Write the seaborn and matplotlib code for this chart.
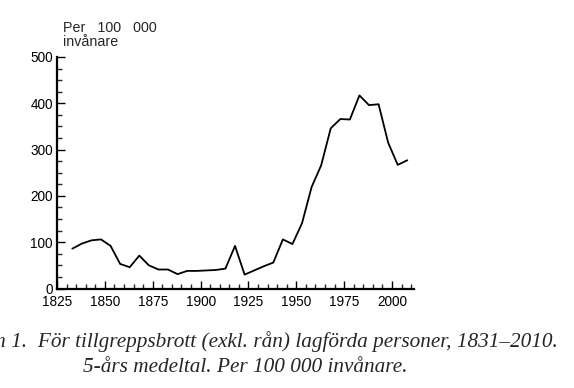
import matplotlib
matplotlib.use("Agg")
import matplotlib.pyplot as plt
import seaborn as sns
import pandas as pd
from matplotlib.ticker import MultipleLocator

years = [1833, 1838, 1843, 1848, 1853, 1858, 1863, 1868, 1873, 1878, 1883, 1888,
         1893, 1898, 1903, 1908, 1913, 1918, 1923, 1928, 1933, 1938, 1943, 1948,
         1953, 1958, 1963, 1968, 1973, 1978, 1983, 1988, 1993, 1998, 2003, 2008]
values = [86, 97, 104, 106, 92, 53, 46, 71, 50, 41, 41, 31,
          38, 38, 39, 40, 43, 92, 30, 39, 48, 56, 106, 96,
          141, 219, 266, 346, 366, 365, 417, 396, 398, 315, 267, 277]
x_ticks = [1825, 1850, 1875, 1900, 1925, 1950, 1975, 2000]
y_ticks = [0, 100, 200, 300, 400, 500]

sns.set_style("ticks")
plt.rcParams['font.family'] = ['Liberation Sans', 'DejaVu Sans']

df = pd.DataFrame({"year": years, "value": values})

fig = plt.figure(figsize=(5.74, 3.88), dpi=100)
ax = fig.add_axes([57/574, 1 - 288.5/388, (414 - 57)/574, (288.5 - 57)/388])
sns.lineplot(data=df, x="year", y="value", ax=ax, color="black", linewidth=1.3)

ax.set_xlim(1825, 2011.5)
ax.set_ylim(0, 500)
ax.set_xticks(x_ticks)
ax.set_yticks(y_ticks)
ax.xaxis.set_minor_locator(MultipleLocator(5))
ax.yaxis.set_minor_locator(MultipleLocator(25))
ax.tick_params(axis='both', which='major', direction='in', length=6, width=1,
               labelsize=9.8, colors='black')
ax.tick_params(axis='both', which='minor', direction='in', length=3.5, width=1)
ax.tick_params(axis='x', which='major', pad=5)
ax.tick_params(axis='y', which='major', pad=3)
ax.set_xlabel("")
ax.set_ylabel("")
for s in ['top', 'right']:
    ax.spines[s].set_visible(False)
for s in ['left', 'bottom']:
    ax.spines[s].set_linewidth(1.6)
    ax.spines[s].set_color('black')

fig.text(63/574, 1 - 21/388, "Per   100   000\ninvånare", ha='left', va='top',
         fontsize=10.3, linespacing=1.0)

serif = ['Liberation Serif', 'DejaVu Serif']
fig.text(558/574, 1 - 347/388, "Diagram 1.  För tillgreppsbrott (exkl. rån) lagförda personer, 1831–2010.",
         ha='right', va='baseline', family=serif, style='italic', fontsize=15.3)
fig.text(83/574, 1 - 372/388, "5-års medeltal. Per 100 000 invånare.",
         ha='left', va='baseline', family=serif, style='italic', fontsize=15.3)

fig.savefig("out.png", dpi=100)
